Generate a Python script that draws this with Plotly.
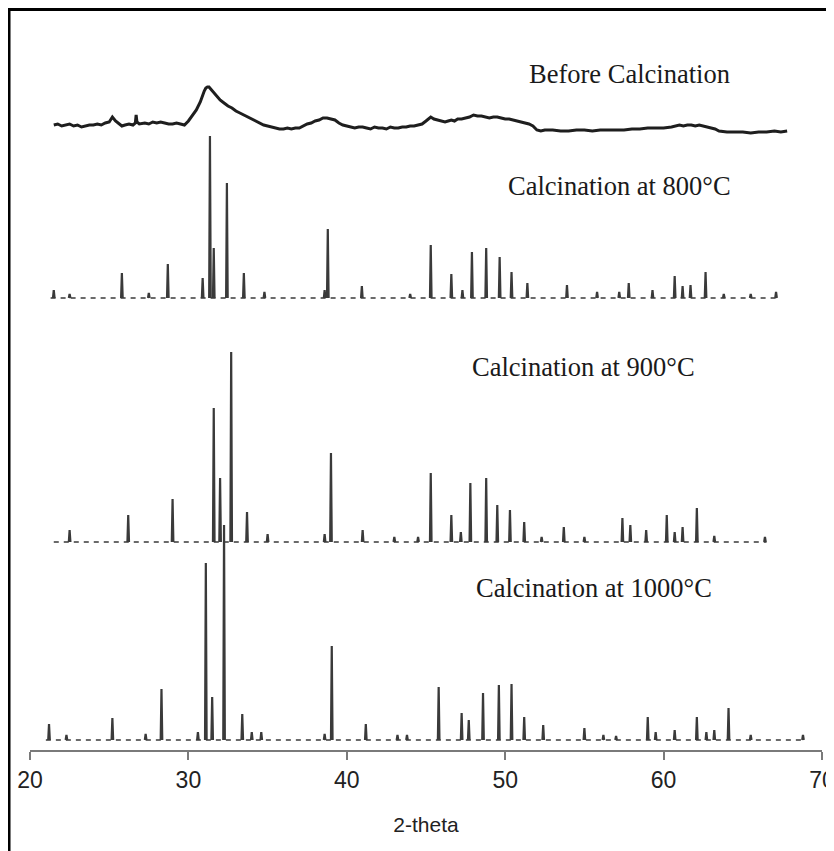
import plotly.graph_objects as go

# ---------------- data ----------------
# Before calcination (continuous pattern), intensity in a.u.
before_theta = [21.5, 21.75, 22.0, 22.25, 22.5, 22.75, 23.0, 23.25, 23.5, 23.75, 24.0, 24.25, 24.5, 24.75,
                25.0, 25.2, 25.4, 25.6, 25.8, 26.0, 26.25, 26.5, 26.65, 26.7, 26.75, 26.9, 27.25, 27.5,
                27.75, 28.0, 28.25, 28.5, 28.75, 29.0, 29.25, 29.5, 29.75, 30.0, 30.25, 30.5, 30.75, 30.9,
                31.0, 31.1, 31.2, 31.3, 31.45, 31.6, 31.8, 32.0, 32.25, 32.5, 32.75, 33.0, 33.25, 33.5,
                33.75, 34.0, 34.25, 34.5, 34.75, 35.0, 35.25, 35.5, 35.75, 36.0, 36.25, 36.5, 36.75, 37.0,
                37.25, 37.5, 37.75, 38.0, 38.25, 38.5, 38.75, 39.0, 39.25, 39.5, 39.75, 40.0, 40.25, 40.5,
                40.75, 41.0, 41.25, 41.5, 41.75, 42.0, 42.25, 42.5, 42.75, 43.0, 43.25, 43.5, 43.75, 44.0,
                44.25, 44.5, 44.75, 45.0, 45.15, 45.3, 45.5, 45.7, 45.95, 46.2, 46.4, 46.6, 46.8, 47.0,
                47.25, 47.5, 47.75, 48.0, 48.25, 48.5, 48.75, 49.0, 49.25, 49.5, 49.75, 50.0, 50.25, 50.5,
                50.75, 51.0, 51.25, 51.5, 51.75, 52.0, 52.25, 52.5, 53.0, 53.5, 54.0, 54.5, 55.0, 55.5,
                56.0, 56.5, 57.0, 57.5, 58.0, 58.5, 59.0, 59.5, 60.0, 60.5, 60.75, 61.0, 61.25, 61.5,
                61.75, 62.0, 62.25, 62.5, 62.75, 63.0, 63.25, 63.5, 64.0, 64.5, 65.0, 65.5, 66.0, 66.5,
                67.0, 67.4, 67.8]
before_int = [10, 11, 9, 10, 11, 9, 10, 8, 9, 10, 10, 11, 10, 12,
              13, 18, 14, 11, 9, 10, 11, 10, 12, 20, 13, 11, 12, 11,
              13, 12, 13, 12, 11, 11, 12, 11, 10, 14, 19, 25, 33, 40,
              44, 47, 48, 48, 45, 43, 39, 35, 32, 29, 27, 24, 22, 20,
              18, 16, 14, 12, 10, 9, 8, 7, 6, 6, 7, 6, 7, 7,
              9, 11, 12, 14, 15, 17, 17, 16, 15, 12, 10, 9, 8, 7,
              8, 8, 7, 6, 8, 7, 7, 6, 8, 7, 7, 8, 8, 9,
              9, 10, 11, 14, 16, 18, 16, 15, 14, 13, 14, 15, 14, 16,
              16, 17, 18, 20, 19, 19, 18, 17, 18, 18, 17, 16, 16, 15,
              14, 13, 12, 11, 9, 5, 4, 5, 5, 4, 4, 5, 5, 4,
              5, 5, 5, 5, 6, 6, 7, 7, 7, 8, 9, 10, 9, 10,
              10, 9, 10, 9, 8, 7, 6, 4, 3, 3, 3, 2, 3, 3,
              4, 3, 4]

# Calcination at 800 °C: peak positions (2-theta) and heights (a.u.)
c800_theta = [21.5, 22.5, 25.8, 27.5, 28.7, 30.9, 31.36, 31.6, 32.43, 33.5, 34.8, 38.6, 38.8,
              40.95, 44.0, 45.3, 46.6, 47.3, 47.9, 48.8, 49.65, 50.4, 51.4, 53.9, 55.8, 57.2,
              57.8, 59.3, 60.7, 61.2, 61.7, 62.65, 63.8, 65.5, 67.1]
c800_int = [8, 4, 25, 5, 34, 20, 162, 50, 115, 25, 6, 8, 69,
            12, 4, 53, 24, 8, 46, 50, 41, 26, 15, 13, 6, 6,
            15, 8, 22, 12, 13, 26, 4, 4, 6]
c800_range = [21.3, 67.3]

# Calcination at 900 °C
c900_theta = [22.5, 26.2, 29.0, 31.6, 32.0, 32.7, 33.7, 35.0, 38.6, 39.0, 41.0, 43.0, 44.5,
              45.3, 46.6, 47.2, 47.8, 48.8, 49.5, 50.3, 51.2, 52.3, 53.7, 55.0, 57.4, 57.9,
              58.9, 60.2, 60.7, 61.2, 62.1, 63.2, 66.4]
c900_int = [12, 27, 43, 134, 64, 190, 30, 8, 8, 89, 12, 5, 5,
            69, 27, 10, 59, 64, 37, 32, 20, 5, 15, 5, 24, 17,
            12, 27, 10, 15, 34, 6, 5]
c900_range = [21.5, 66.5]

# Calcination at 1000 °C
c1000_theta = [21.2, 22.3, 25.2, 27.3, 28.3, 30.6, 31.1, 31.5, 32.25, 33.4, 34.0, 34.6, 38.6,
               39.05, 41.2, 43.2, 43.8, 45.8, 47.25, 47.7, 48.6, 49.6, 50.4, 51.2, 52.4, 55.0,
               56.2, 57.0, 59.0, 59.5, 60.7, 62.1, 62.7, 63.2, 64.1, 65.5, 68.8]
c1000_int = [16, 5, 22, 6, 51, 8, 177, 43, 215, 26, 8, 8, 6,
             94, 16, 5, 5, 53, 27, 20, 47, 55, 56, 23, 15, 12,
             5, 4, 23, 8, 10, 23, 8, 10, 32, 5, 5]
c1000_range = [21.0, 68.9]

labels = ["Before Calcination", "Calcination at 800°C", "Calcination at 900°C", "Calcination at 1000°C"]
x_ticks = [20, 30, 40, 50, 60, 70]

# ---------------- figure ----------------
offsets = {"before": 615, "800": 452, "900": 208, "1000": 10}
fig = go.Figure()

fig.add_trace(go.Scatter(
    x=before_theta, y=[v + offsets["before"] for v in before_int],
    mode="lines", line=dict(color="#1e1e1e", width=3), showlegend=False, hoverinfo="skip"))


def add_pattern(theta, inten, rng, off):
    # dashed baseline
    fig.add_trace(go.Scatter(
        x=rng, y=[off, off], mode="lines",
        line=dict(color="#6a6a6a", width=2, dash="5px,5px"),
        showlegend=False, hoverinfo="skip"))
    xs, ys = [], []
    for t, h in zip(theta, inten):
        xs += [t - 0.05, t, t + 0.05, None]
        ys += [off, off + h, off, None]
    fig.add_trace(go.Scatter(
        x=xs, y=ys, mode="lines", line=dict(color="#3a3a3a", width=2.2),
        showlegend=False, hoverinfo="skip"))


add_pattern(c800_theta, c800_int, c800_range, offsets["800"])
add_pattern(c900_theta, c900_int, c900_range, offsets["900"])
add_pattern(c1000_theta, c1000_int, c1000_range, offsets["1000"])

label_pos = [(57.85, 676), (57.2, 564), (54.95, 383), (55.6, 162)]
for txt, (lx, ly) in zip(labels, label_pos):
    fig.add_annotation(x=lx, y=ly, text=txt, showarrow=False, xanchor="center", yanchor="middle",
                       font=dict(family="Liberation Serif, Times New Roman, serif", size=26.5, color="#1a1a1a"))

fig.update_layout(
    width=826, height=843,
    margin=dict(l=22, r=12, t=0, b=101),
    paper_bgcolor="white", plot_bgcolor="white",
    xaxis=dict(range=[19.999, 70.001], tickvals=x_ticks, ticktext=[str(v) for v in x_ticks],
               showgrid=False, zeroline=False, showline=True, linecolor="#7a7a7a", linewidth=2,
               ticks="outside", ticklen=8, tickwidth=1.5, tickcolor="#7a7a7a",
               ticklabeloverflow="allow",
               tickfont=dict(family="Liberation Sans, Arial", size=23, color="#222"),
               title=dict(text="2-theta", standoff=26,
                          font=dict(family="Liberation Sans, Arial", size=21, color="#222"))),
    yaxis=dict(range=[0, 742], visible=False, showgrid=False, zeroline=False),
    shapes=[dict(type="rect", xref="paper", yref="paper",
                 x0=-0.0265, x1=1.1, y0=-0.3, y1=0.998,
                 line=dict(color="black", width=3), fillcolor="rgba(0,0,0,0)", layer="above")],
)

fig.write_html("out.html")
